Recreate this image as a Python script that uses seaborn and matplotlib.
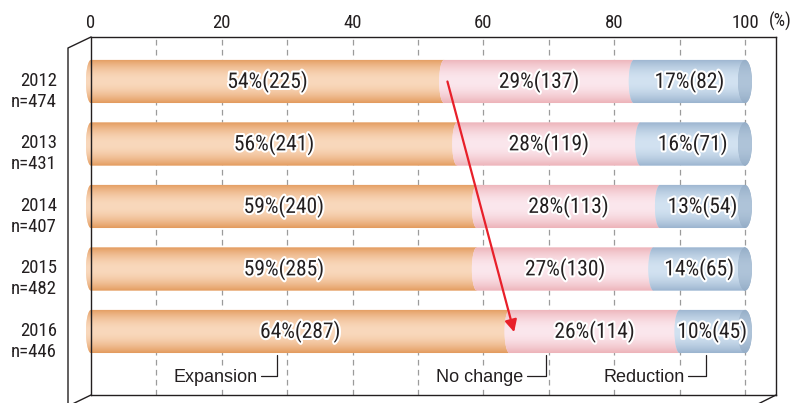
import numpy as np
import pandas as pd
import matplotlib
matplotlib.use("Agg")
import matplotlib.pyplot as plt
import seaborn as sns
from matplotlib import font_manager
from matplotlib.path import Path
from matplotlib.patches import PathPatch, Ellipse
from matplotlib.lines import Line2D
from matplotlib.transforms import ScaledTranslation
import matplotlib.patheffects as pe
from matplotlib.colors import LinearSegmentedColormap

# ---- data -----------------------------------------------------------------
years = ["2012", "2013", "2014", "2015", "2016"]
sample_sizes = [474, 431, 407, 482, 446]
expansion_pct = [54, 56, 59, 59, 64]
expansion_n = [225, 241, 240, 285, 287]
no_change_pct = [29, 28, 28, 27, 26]
no_change_n = [137, 119, 113, 130, 114]
reduction_pct = [17, 16, 13, 14, 10]
reduction_n = [82, 71, 54, 65, 45]
series_names = ["Expansion", "No change", "Reduction"]
x_ticks = [0, 20, 40, 60, 80, 100]

row_labels = [f"{y}\nn={n}" for y, n in zip(years, sample_sizes)]

# ---- fonts ----------------------------------------------------------------
sns.set_style("white")


def pick_font(names):
    for name in names:
        try:
            font_manager.findfont(name, fallback_to_default=False)
            return name
        except Exception:
            continue
    return "DejaVu Sans"


narrow = pick_font(["Liberation Sans Narrow", "Roboto Condensed", "Liberation Sans"])
regular = pick_font(["Liberation Sans", "Arial"])
plt.rcParams["font.family"] = [narrow, "DejaVu Sans"]

INK = "#231f20"

# ---- figure / axes --------------------------------------------------------
W, H = 805, 403
fig = plt.figure(figsize=(W / 100, H / 100), dpi=100)
ax_l, ax_r, ax_t, ax_b = 91, 776, 37, 395
ax = fig.add_axes([ax_l / W, 1 - ax_b / H, (ax_r - ax_l) / W, (ax_b - ax_t) / H])

px_per_unit = 6.54
row_px = 62.5
bar_w = 0.69

segments = [
    (series_names[0], expansion_pct, expansion_n, ("#E39A5C", "#F9D8BC")),
    (series_names[1], no_change_pct, no_change_n, ("#EDB2B8", "#FBE7ED")),
    (series_names[2], reduction_pct, reduction_n, ("#9AB3CE", "#D2E2F1")),
]

starts = np.zeros(len(years))
bar_rects = []
for name, pct, counts, _ in segments:
    df = pd.DataFrame({"row": row_labels, "pct": pct})
    n_before = len(ax.patches)
    sns.barplot(data=df, x="pct", y="row", orient="h", left=starts.copy(),
                width=bar_w, errorbar=None, color="white", ax=ax)
    bar_rects.append(ax.patches[n_before:])
    starts = starts + np.array(pct)

rx_seg = 5 / px_per_unit
rx_end = 7 / px_per_unit
prof = np.sin(np.linspace(0, np.pi, 256)) ** 0.9
grad = prof[:, None]


def capped_path(x0, x1, yc, hh, rx):
    t = np.linspace(np.pi / 2, 3 * np.pi / 2, 48)
    ex = x0 + rx * np.cos(t)
    ey = yc + hh * np.sin(t)
    verts = [(x1, yc - hh), (x1, yc + hh)] + list(zip(ex, ey)) + [(x1, yc - hh)]
    codes = [Path.MOVETO] + [Path.LINETO] * (len(verts) - 2) + [Path.CLOSEPOLY]
    return Path(verts, codes)


for k, ((name, pct, counts, (edge, center)), rects) in enumerate(zip(segments, bar_rects)):
    cmap = LinearSegmentedColormap.from_list(f"cyl{k}", [edge, center])
    for i, r in enumerate(rects):
        x0, w = r.get_x(), r.get_width()
        y0, h = r.get_y(), r.get_height()
        yc, hh = y0 + h / 2, h / 2
        r.set_visible(False)
        shape = PathPatch(capped_path(x0, x0 + w, yc, hh, rx_seg), facecolor=center,
                          edgecolor="none", zorder=2 + k, clip_on=False)
        ax.add_patch(shape)
        im = ax.imshow(grad, cmap=cmap, vmin=0, vmax=1, aspect="auto",
                       extent=(x0 - rx_seg - 0.1, x0 + w + 0.1, y0 + h, y0),
                       zorder=2 + k, interpolation="bilinear")
        im.set_clip_path(shape)
        im.set_clip_box(fig.bbox)
        ax.text(x0 + w / 2, yc, f"{pct[i]}%({counts[i]})", ha="center", va="center",
                fontsize=15.5, color=INK, zorder=10,
                path_effects=[pe.withStroke(linewidth=3, foreground="white")])
        if k == len(segments) - 1:
            cap_cmap = LinearSegmentedColormap.from_list("capc", ["#93ACC6", "#AFC4D9"])
            cap = Ellipse((x0 + w, yc), 2 * rx_end, h, facecolor="#9FB6CD",
                          edgecolor="none", zorder=6, clip_on=False)
            ax.add_patch(cap)
            imc = ax.imshow(grad, cmap=cap_cmap, vmin=0, vmax=1, aspect="auto",
                            extent=(x0 + w - rx_end, x0 + w + rx_end, y0 + h, y0),
                            zorder=6, interpolation="bilinear")
            imc.set_clip_path(cap)
            imc.set_clip_box(fig.bbox)

# ---- grid, axes -----------------------------------------------------------
for gx in range(10, 101, 10):
    ax.axvline(gx, color="#9b9b9b", lw=0.9, dashes=(4.5, 3.5), zorder=1)

x_max = (ax_r - ax_l) / px_per_unit
y_top = -(81.5 - ax_t) / row_px
y_bot = (len(years) - 1) + (ax_b - 331.5) / row_px
ax.set_xlim(0, x_max)
ax.set_ylim(y_bot, y_top)

ax.xaxis.tick_top()
ax.set_xticks(x_ticks)
ax.set_xticklabels([str(t) for t in x_ticks], fontsize=13.5, color=INK)
ax.tick_params(axis="x", length=0, pad=3.5)
ax.tick_params(axis="y", length=0, pad=24.5, labelsize=13.5, labelcolor=INK)
ax.set_xlabel("")
ax.set_ylabel("")
for lab in ax.get_yticklabels():
    lab.set_linespacing(1.22)
    lab.set_transform(lab.get_transform() + ScaledTranslation(0, -6 / 100, fig.dpi_scale_trans))

for sp in ax.spines.values():
    sp.set_visible(True)
    sp.set_color(INK)
    sp.set_linewidth(1.0)

fig.text(769 / W, 1 - 21 / H, "(%)", ha="left", va="center", fontsize=13, color=INK)

# side panels giving the frame its depth
def fig_line(pts):
    xs = [p[0] / W for p in pts]
    ys = [1 - p[1] / H for p in pts]
    fig.add_artist(Line2D(xs, ys, color=INK, lw=1.0, transform=fig.transFigure))

fig_line([(91, 37), (68, 48), (68, 420)])
fig_line([(91, 395), (60, 410)])
fig_line([(776, 395), (752, 407)])

# ---- trend arrow ----------------------------------------------------------
ax.annotate("", xy=(expansion_pct[-1] + 0.7, len(years) - 1 + 0.01),
            xytext=(expansion_pct[0] + 0.5, 0.0),
            arrowprops=dict(arrowstyle="-|>", color="#E8202A", lw=1.6,
                            mutation_scale=18, shrinkA=0, shrinkB=0),
            zorder=12)

# ---- legend callouts under the last bar -----------------------------------
callouts = [(series_names[0], 26.0, 28.5), (series_names[1], 66.6, 69.6),
            (series_names[2], 91.3, 94.1)]
y_line = (376 - 81.5) / row_px
y_up = (355 - 81.5) / row_px
y_base = (381.5 - 81.5) / row_px
for name, x_text, x_conn in callouts:
    ax.text(x_text - 0.5, y_base, name, ha="right", va="baseline", fontsize=13,
            color=INK, family=[regular, "DejaVu Sans"], zorder=10,
            bbox=dict(facecolor="white", edgecolor="none", pad=0.5))
    ax.plot([x_text, x_conn, x_conn], [y_line, y_line, y_up], color=INK, lw=0.9,
            zorder=10)

fig.savefig("out.png", dpi=100, facecolor="white")
